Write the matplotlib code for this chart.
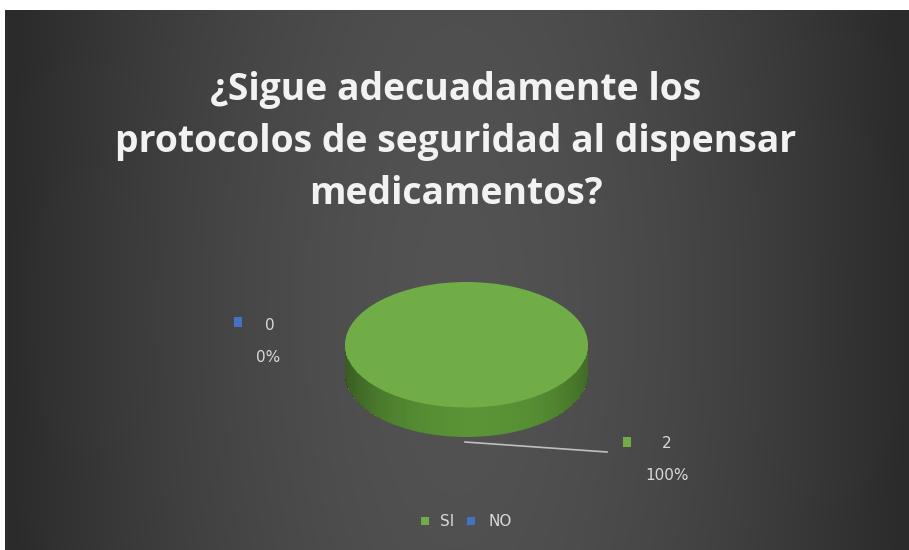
import numpy as np
import matplotlib.pyplot as plt
from matplotlib.patches import Rectangle

# data
categories = ['SI', 'NO']
values = [2, 0]
colors = ['#70ad47', '#4472c4']
side_colors = ['#5a9436', '#2f5597']
title_lines = ['¿Sigue adecuadamente los',
               'protocolos de seguridad al dispensar',
               'medicamentos?']

W, H = 909, 550
fig = plt.figure(figsize=(W / 100, H / 100), dpi=100)
fig.patch.set_facecolor('white')

# dark background, lighter in the middle (chart area leaves thin white strip top/left)
bg = fig.add_axes([5 / W, 0, 1 - 5 / W, 1 - 10 / H])
yy, xx = np.mgrid[0:540, 0:904]
r = np.abs(xx - 452) / 452
r = np.clip(np.sqrt(r ** 2 + (0.25 * (yy - 300) / 300) ** 2), 0, 1)
c0, c1 = 0x53, 0x2b
g = (c0 + (c1 - c0) * r ** 1.6) / 255
bg.imshow(np.dstack([g, g, g]), aspect='auto', extent=(0, 1, 0, 1))
bg.set_axis_off()

# title, three lines on fixed baselines; size fitted to the long middle line
baselines = [100, 152, 204]
renderer = fig.canvas.get_renderer()
fs = 26
probe = fig.text(0, 0, title_lines[1], fontsize=fs, fontweight='bold',
                 family='Open Sans')
wpx = probe.get_window_extent(renderer).width
probe.remove()
fs = fs * 705 / wpx * 0.97
for line, b in zip(title_lines, baselines):
    fig.text(456 / W, 1 - b / H, line, ha='center', va='baseline',
             fontsize=fs, fontweight='bold', color='#f2f2f2',
             family='Open Sans')

# pie axes (3D look: shifted dark pie + band + top face)
left, right, top, bot = 345, 588, 282, 437
pax = fig.add_axes([left / W, 1 - bot / H, (right - left) / W, (bot - top) / H])
depth = 0.47
pax.pie(values, colors=side_colors, startangle=90, counterclock=False,
        center=(0, -depth), wedgeprops=dict(linewidth=0))
pax.add_patch(Rectangle((-1, -depth), 2, depth, facecolor=side_colors[0],
                        edgecolor='none'))
# soft shading on the band
xs = np.linspace(-1, 1, 200)
for x0, x1 in zip(xs[:-1], xs[1:]):
    xm = (x0 + x1) / 2
    yb = -np.sqrt(max(0.0, 1 - xm ** 2))
    a = 0.28 * (abs(xm) ** 3) + 0.1 * max(0, -xm)
    pax.add_patch(Rectangle((x0, yb - depth), x1 - x0, depth,
                            facecolor='black', alpha=a, edgecolor='none'))
pax.pie(values, colors=colors, startangle=90, counterclock=False,
        wedgeprops=dict(linewidth=0))
pax.set_aspect('auto')
pax.set_xlim(-1, 1)
pax.set_ylim(-1 - depth, 1)
pax.set_axis_off()

# data labels
total = sum(values)
lab_pos = [((627, 442), (667, 443), (667, 475)),
           ((238, 322), (270, 325), (268, 357))]
for i, (mk, vp, pp) in enumerate(lab_pos):
    fig.patches.append(Rectangle((mk[0] / W - 4 / W, 1 - mk[1] / H - 5 / H),
                                 8 / W, 10 / H, facecolor=colors[i],
                                 edgecolor='none', transform=fig.transFigure))
    fig.text(vp[0] / W, 1 - vp[1] / H, f'{values[i]}', ha='center', va='center',
             fontsize=11, color='#d9d9d9')
    fig.text(pp[0] / W, 1 - pp[1] / H, f'{values[i] / total:.0%}', ha='center',
             va='center', fontsize=11, color='#d9d9d9')

# leader line
fig.add_artist(plt.Line2D([465 / W, 607 / W], [1 - 442 / H, 1 - 452 / H],
                          color='#bfbfbf', linewidth=1.2))

# legend
leg_x = [(425, 440), (471, 488)]
for i, (mx, tx) in enumerate(leg_x):
    fig.patches.append(Rectangle((mx / W - 4 / W, 1 - 521 / H - 4 / H),
                                 8 / W, 8 / H, facecolor=colors[i],
                                 edgecolor='none', transform=fig.transFigure))
    fig.text(tx / W, 1 - 521 / H, categories[i], ha='left', va='center',
             fontsize=11, color='#d9d9d9')

fig.savefig('out.png', dpi=100, facecolor=fig.get_facecolor())
